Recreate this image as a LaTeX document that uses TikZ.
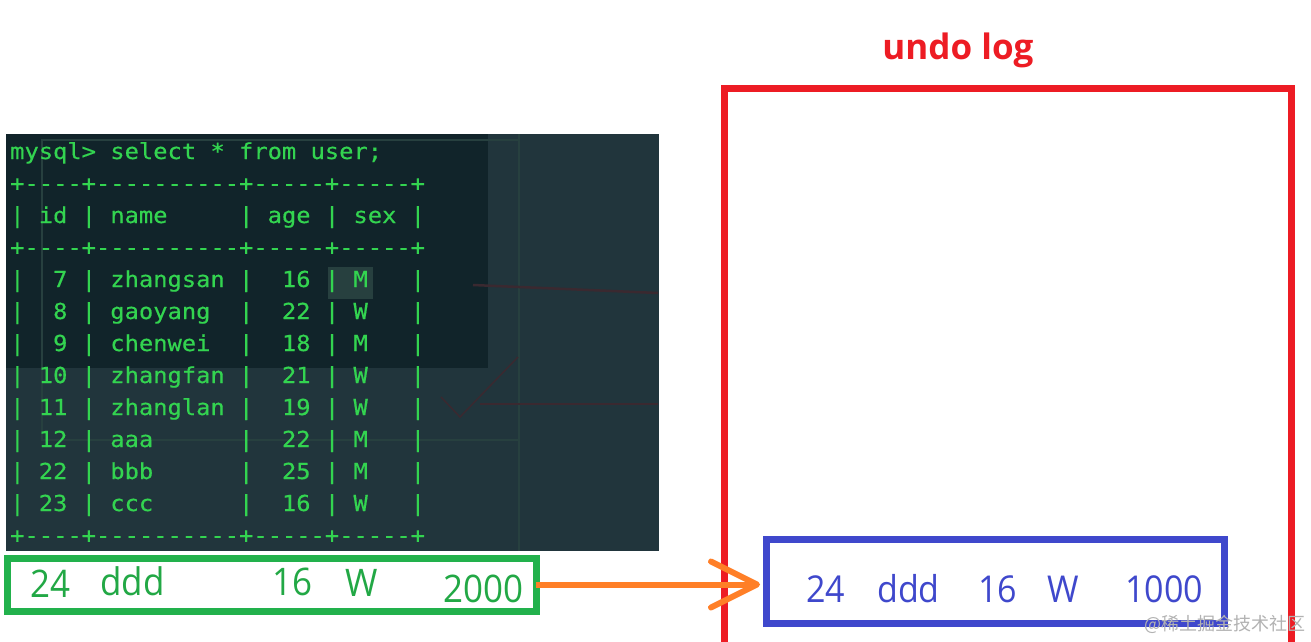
\documentclass[tikz,border=0pt]{standalone}
\usepackage{fontspec}
\usetikzlibrary{arrows.meta}
\setmonofont{DejaVu Sans Mono}[FakeStretch=1.08,FakeBold=0.4]
\newfontfamily\ui{Open Sans}
\newfontfamily\cjk{Noto Sans CJK SC}
\definecolor{termbg}{HTML}{21353C}
\definecolor{termdark}{HTML}{11242A}
\definecolor{ghost}{HTML}{27403F}
\definecolor{ghostred}{HTML}{3A2930}
\definecolor{termgreen}{HTML}{33D450}
\definecolor{rowgreen}{HTML}{22A845}
\definecolor{boxgreen}{HTML}{22B14C}
\definecolor{boxblue}{HTML}{3F48CC}
\definecolor{undored}{HTML}{ED1C24}
\definecolor{arroworange}{HTML}{FF7F27}
\begin{document}
\begin{tikzpicture}[x=1pt,y=-1pt,
  term/.style={anchor=base west, inner sep=0pt, text=termgreen, font=\ttfamily\fontsize{22}{22}\selectfont},
  gval/.style={anchor=base west, inner sep=0pt, text=rowgreen, font=\ui\fontsize{38}{38}\selectfont, xscale=0.92},
  bval/.style={anchor=base west, inner sep=0pt, text=boxblue, font=\ui\fontsize{37}{37}\selectfont, xscale=0.92},
  rowbox/.style={draw, line width=7pt, fill=white, inner sep=0pt, outer sep=0pt}
]
\useasboundingbox (0,0) rectangle (1311,641);
\clip (0,0) rectangle (1311,641);
\fill[white] (0,0) rectangle (1311,641);

% terminal screenshot
\node[fill=termbg, minimum width=653pt, minimum height=417pt, inner sep=0pt, outer sep=0pt, anchor=north west] (terminal) at (6,134) {};
\fill[termdark] (6,134) rectangle (488,368);
\draw[ghost, line width=1.2pt] (42,140) rectangle (519,440);
\draw[ghost, line width=2pt] (519,134) -- (519,551);
\fill[ghost] (328,267) rectangle (373,299);
\draw[ghostred, line width=2.5pt] (473,285) -- (658,293);
\draw[ghostred, line width=2.5pt] (480,404) -- (658,404);
\draw[ghostred, line width=1.5pt] (441,397) -- (460,417) -- (518,357);

\node[term] (l0) at (10,159) {mysql>~select~*~from~user;};
\node[term] (l1) at (10,191) {+----+----------+-----+-----+};
\node[term] (l2) at (10,223) {|~id~|~name~~~~~|~age~|~sex~|};
\node[term] (l3) at (10,255) {+----+----------+-----+-----+};
\node[term] (l4) at (10,287) {|~~7~|~zhangsan~|~~16~|~M~~~|};
\node[term] (l5) at (10,319) {|~~8~|~gaoyang~~|~~22~|~W~~~|};
\node[term] (l6) at (10,351) {|~~9~|~chenwei~~|~~18~|~M~~~|};
\node[term] (l7) at (10,383) {|~10~|~zhangfan~|~~21~|~W~~~|};
\node[term] (l8) at (10,415) {|~11~|~zhanglan~|~~19~|~W~~~|};
\node[term] (l9) at (10,447) {|~12~|~aaa~~~~~~|~~22~|~M~~~|};
\node[term] (l10) at (10,479) {|~22~|~bbb~~~~~~|~~25~|~M~~~|};
\node[term] (l11) at (10,511) {|~23~|~ccc~~~~~~|~~16~|~W~~~|};
\node[term] (l12) at (10,543) {+----+----------+-----+-----+};

% undo log
\node[text=undored, font=\ui\bfseries\fontsize{35}{35}\selectfont, anchor=base, inner sep=0pt] (title) at (958,59) {undo log};
\node[draw=undored, line width=7pt, minimum width=567pt, minimum height=590pt, inner sep=0pt, outer sep=0pt, anchor=north west] (undo) at (724,88) {};

% new row (green)
\node[rowbox, draw=boxgreen, minimum width=529pt, minimum height=53pt] (newrow) at (271.5,584.5) {};
\node[gval] (g1) at (30,597) {24};
\node[gval] (g2) at (100,595) {ddd};
\node[gval] (g3) at (272,595) {16};
\node[gval] (g4) at (345,596) {W};
\node[gval] (g5) at (443,602) {2000};

% old row (blue)
\node[rowbox, draw=boxblue, minimum width=458pt, minimum height=84pt] (oldrow) at (995,581) {};
\node[bval] (b1) at (806,602) {24};
\node[bval] (b2) at (877,602) {ddd};
\node[bval] (b3) at (978,602) {16};
\node[bval] (b4) at (1047,602) {W};
\node[bval] (b5) at (1125,602) {1000};

% arrow
\draw[arroworange, line width=6pt, -{Straight Barb[length=46pt,width=46pt,round]}, shorten >=6pt]
  (newrow.east) -- (newrow.east -| oldrow.west);

% watermark
\node[anchor=west, inner sep=0pt, text=black!30, font=\cjk\fontsize{18}{18}\selectfont] (wm) at (1144,624) {@稀土掘金技术社区};
\end{tikzpicture}
\end{document}
